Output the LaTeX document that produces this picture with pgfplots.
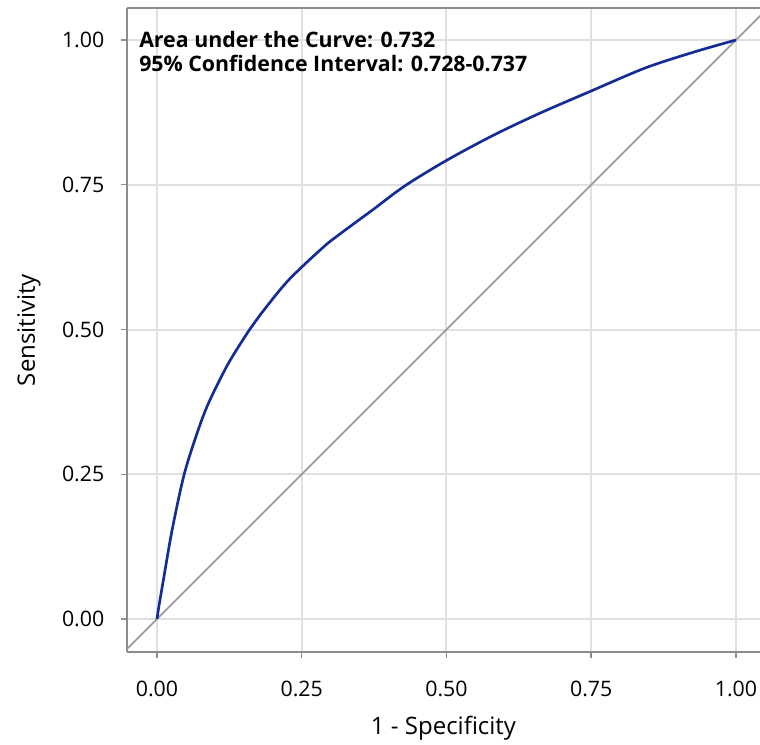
\documentclass[border=0pt]{standalone}
\usepackage{pgfplots}
\pgfplotsset{compat=1.18}
\usepackage{fontspec}
\setmainfont{Open Sans}

\definecolor{rocblue}{RGB}{20,45,150}
\definecolor{axisgray}{RGB}{140,140,140}
\definecolor{gridgray}{RGB}{224,224,224}
\definecolor{diaggray}{RGB}{150,150,150}

\begin{document}
\begin{tikzpicture}
  \begin{axis}[
      name=ax,
      at={(0,0)}, anchor=south west,
      scale only axis,
      width=474.75pt, height=483pt,
      xmin=-0.0518, xmax=1.0415,
      ymin=-0.057, ymax=1.0553,
      axis lines*=left,
      axis line style={axisgray, line width=1.5pt},
      xtick={0,0.25,0.5,0.75,1},
      ytick={0,0.25,0.5,0.75,1},
      xticklabels={0.00,0.25,0.50,0.75,1.00},
      yticklabels={0.00,0.25,0.50,0.75,1.00},
      tick align=outside,
      major tick length=4.5pt,
      tick style={axisgray, line width=1.1pt},
      grid=major,
      grid style={gridgray, line width=1.5pt},
      tick label style={font=\fontsize{16}{19}\selectfont},
      xticklabel style={yshift=-14pt},
      yticklabel style={xshift=-9pt},
      xlabel={1 - Specificity},
      ylabel={Sensitivity},
      every axis x label/.style={at={(axis description cs:0.5,0)}, anchor=base, yshift=-62.25pt, font=\fontsize{18}{21}\selectfont},
      every axis y label/.style={at={(axis description cs:0,0.5)}, rotate=90, anchor=base, yshift=69pt, font=\fontsize{18}{21}\selectfont},
    ]
    % reference diagonal
    \addplot[diaggray, line width=1.1pt] coordinates {(-0.1,-0.1) (1.1,1.1)};
    % ROC curve
    \addplot[rocblue, line width=2pt, smooth, tension=0.5] coordinates {
      (0.000,0.000)
      (0.003,0.020)
      (0.011,0.067)
      (0.026,0.153)
      (0.047,0.250)
      (0.071,0.326)
      (0.090,0.375)
      (0.123,0.441)
      (0.160,0.500)
      (0.178,0.525)
      (0.226,0.584)
      (0.287,0.642)
      (0.316,0.665)
      (0.373,0.707)
      (0.428,0.748)
      (0.500,0.792)
      (0.580,0.835)
      (0.660,0.873)
      (0.750,0.912)
      (0.844,0.952)
      (0.930,0.980)
      (1.000,1.000)
    };
  \end{axis}
  % top frame line (no right spine visible in the reference)
  \draw[axisgray, line width=1.5pt] (ax.north west) -- (ax.north east);
  \node[anchor=base west, inner sep=0, font=\fontsize{16}{19}\selectfont\bfseries]
    at ([xshift=9pt, yshift=-30pt]ax.north west) {Area under the Curve: 0.732};
  \node[anchor=base west, inner sep=0, font=\fontsize{16}{19}\selectfont\bfseries]
    at ([xshift=9pt, yshift=-48pt]ax.north west) {95\% Confidence Interval: 0.728-0.737};
  \pgfresetboundingbox
  \path (-95.25pt,-69.75pt) rectangle (474.75pt,489pt);
\end{tikzpicture}
\end{document}
